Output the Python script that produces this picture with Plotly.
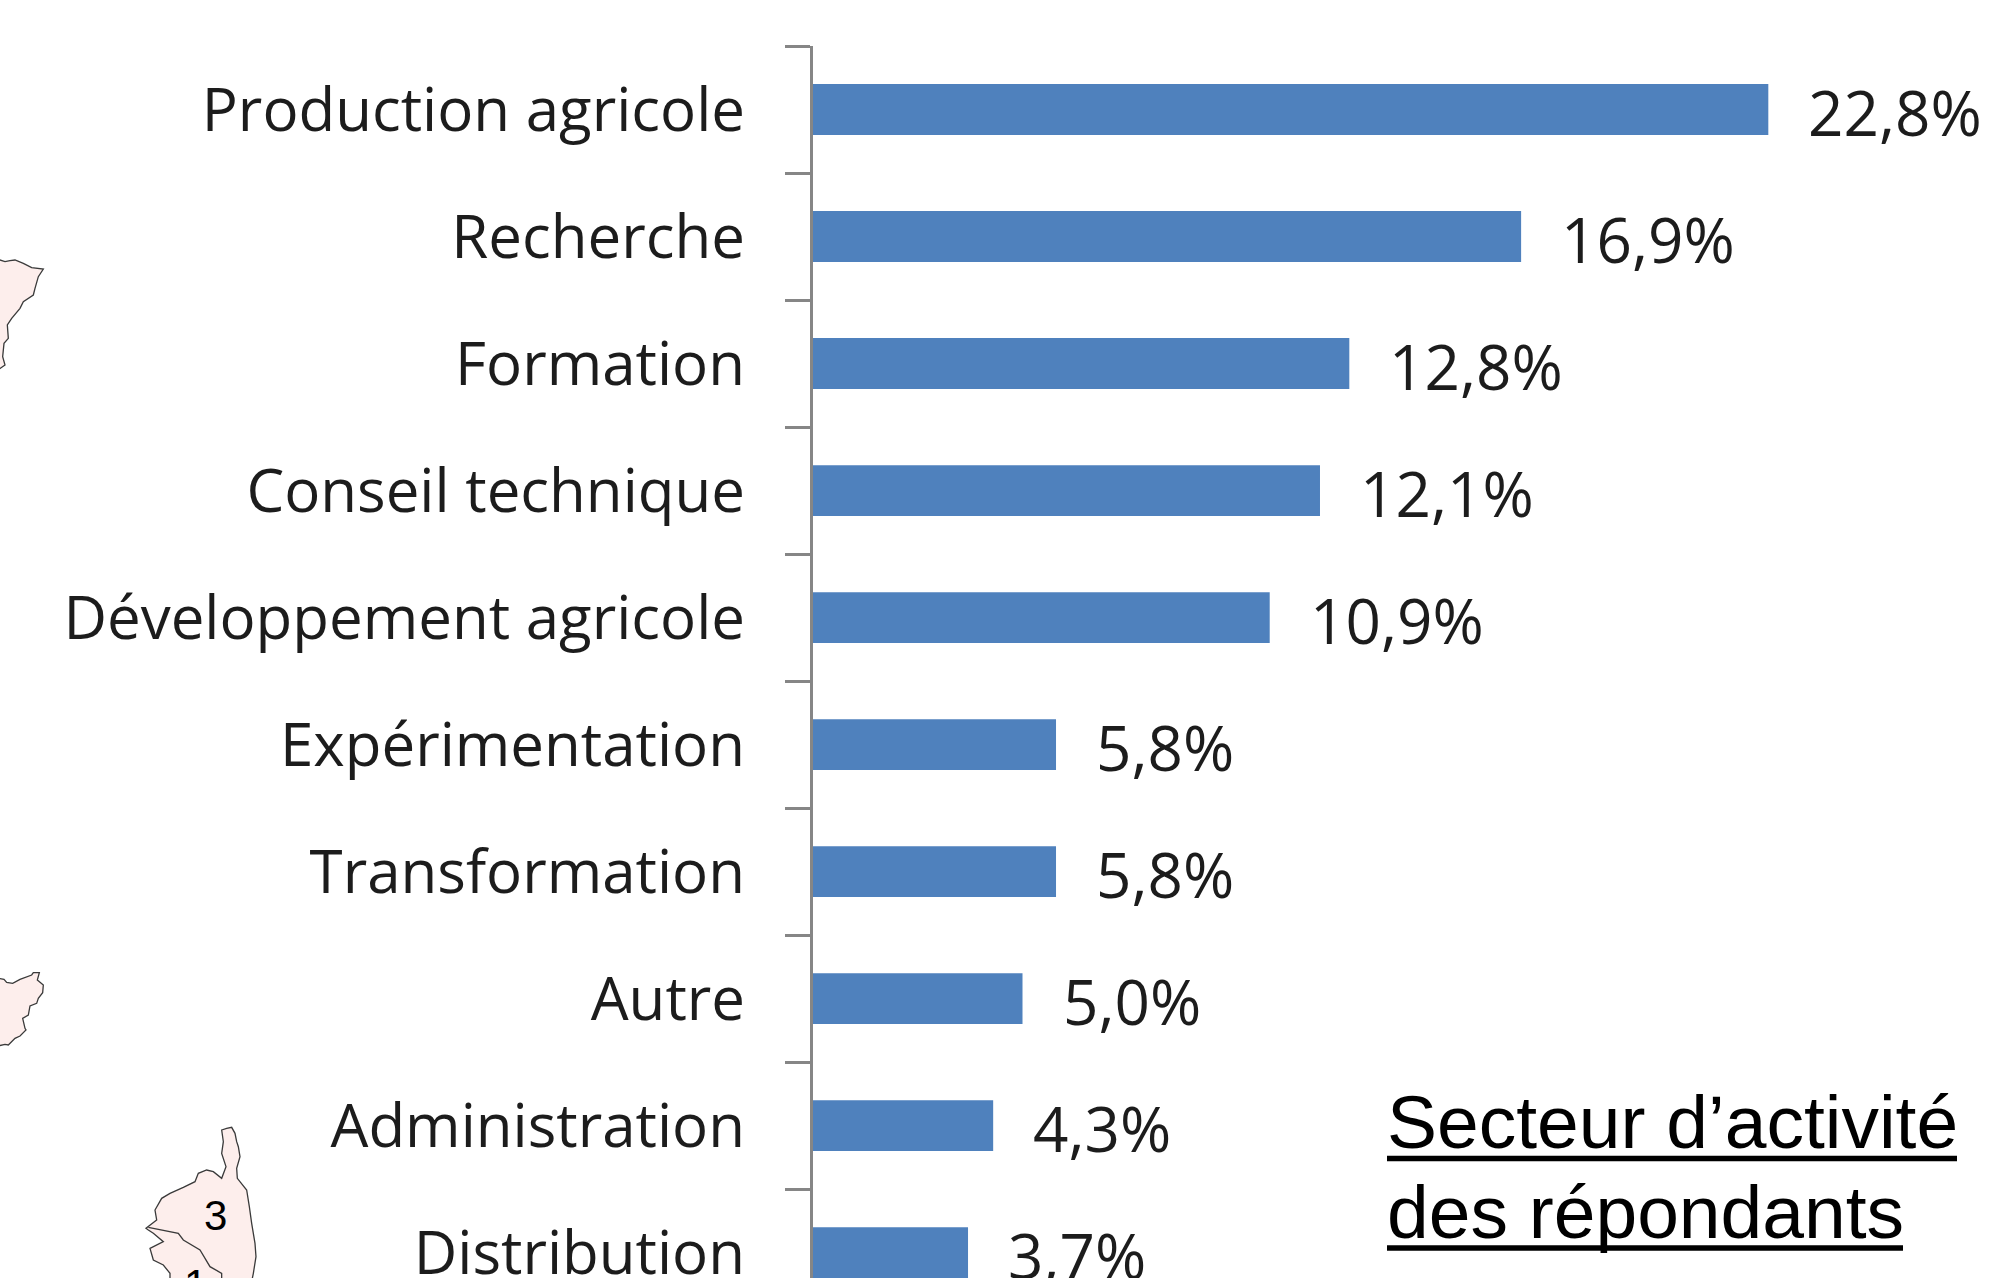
import plotly.graph_objects as go

categories = ["Production agricole", "Recherche", "Formation", "Conseil technique",
              "Développement agricole", "Expérimentation", "Transformation",
              "Autre", "Administration", "Distribution"]
values = [22.8, 16.9, 12.8, 12.1, 10.9, 5.8, 5.8, 5.0, 4.3, 3.7]
title_lines = ["Secteur d’activité", "des répondants"]

W, H = 1992, 1278
X0, PX_PER_UNIT = 813, 41.9
TOP = 46
BLUE = "#4f81bd"
GREY = "#868686"
MAP_FILL = "#fdeeec"
MAP_LINE = "#3a3a3a"
TEXT = "#1c1c1c"
LABEL_FONT = "Open Sans"


def path(points, close=True):
    s = "M " + " L ".join(f"{x / W:.5f},{1 - y / H:.5f}" for x, y in points)
    return s + (" Z" if close else "")


def zoomed(points, ox, oy):
    return [(ox + x / 3, oy + y / 3) for x, y in points]


corsica = zoomed([(305, 60), (320, 55), (335, 52), (345, 70), (350, 95), (355, 110), (360, 140), (350, 175),
                  (352, 205), (380, 240), (388, 290), (395, 340), (405, 400), (408, 440), (400, 490),
                  (396, 510), (150, 510), (150, 490), (130, 465), (100, 450), (90, 415), (130, 395), (100, 370),
                  (85, 360), (78, 355), (110, 330), (105, 300), (125, 265), (150, 250), (190, 232),
                  (225, 215), (235, 190), (260, 180), (280, 185), (305, 205), (318, 170), (305, 130),
                  (310, 95)], 120, 1110)
corsica_inner = zoomed([(85, 352), (175, 370), (190, 390), (240, 420), (270, 470), (305, 490), (305, 510)], 120, 1110)
frag_a = zoomed([(-6, 88), (15, 95), (30, 92), (45, 90), (70, 100), (95, 113), (130, 117), (115, 140), (105, 175),
                 (100, 195), (70, 215), (60, 235), (35, 265), (22, 285), (25, 325), (12, 340), (8, 380),
                 (15, 405), (-6, 420)], 0, 230)
frag_b = zoomed([(-6, 85), (12, 88), (20, 97), (38, 100), (60, 88), (95, 75), (100, 68), (118, 68), (112, 90),
                 (130, 105), (128, 128), (115, 145), (110, 160), (90, 168), (85, 195), (68, 205), (75, 235),
                 (78, 240), (60, 258), (45, 265), (25, 285), (15, 283), (-6, 288)], 0, 950)

shapes = []
for pts in (corsica, frag_a, frag_b):
    shapes.append(dict(type="path", xref="paper", yref="paper", path=path(pts), fillcolor=MAP_FILL,
                       line=dict(color=MAP_LINE, width=1.3), layer="below"))
shapes.append(dict(type="path", xref="paper", yref="paper", path=path(corsica_inner, close=False),
                   line=dict(color=MAP_LINE, width=1.3), layer="below"))
for x1, y in ((1957, 1158.5), (1903, 1248)):
    shapes.append(dict(type="line", xref="paper", yref="paper", x0=1387 / W, x1=x1 / W, y0=1 - y / H, y1=1 - y / H,
                       line=dict(color="#000000", width=5.5)))

annotations = []
for cat, v in zip(categories, values):
    annotations.append(dict(x=v, y=cat, xref="x", yref="y", text=f"{v:.1f}".replace(".", ",") + "%",
                            xanchor="left", yanchor="middle", xshift=38, yshift=-2, showarrow=False,
                            font=dict(family=LABEL_FONT, size=62, color=TEXT)))
annotations.append(dict(x=1385 / W, y=1 - 1122 / H, xref="paper", yref="paper", xanchor="left", yanchor="middle",
                        text=title_lines[0], showarrow=False,
                        font=dict(family="Liberation Sans", size=75, color="#000000")))
annotations.append(dict(x=1385 / W, y=1 - 1212 / H, xref="paper", yref="paper", xanchor="left", yanchor="middle",
                        text=title_lines[1], showarrow=False,
                        font=dict(family="Liberation Sans", size=75, color="#000000")))
annotations.append(dict(x=215 / W, y=1 - 1215 / H, xref="paper", yref="paper", text="3", showarrow=False,
                        xanchor="center", yanchor="middle",
                        font=dict(family="Liberation Sans", size=42, color="#000000")))
annotations.append(dict(x=195 / W, y=1 - 1284 / H, xref="paper", yref="paper", text="1", showarrow=False,
                        xanchor="center", yanchor="middle",
                        font=dict(family="Liberation Sans", size=42, color="#000000")))

fig = go.Figure(go.Bar(x=values, y=categories, orientation="h", marker=dict(color=BLUE, line=dict(width=0)),
                       hoverinfo="x+y"))
fig.update_layout(
    width=W, height=H, autosize=False, margin=dict(l=0, r=0, t=0, b=0, autoexpand=False),
    paper_bgcolor="white", plot_bgcolor="rgba(0,0,0,0)", bargap=0.6, showlegend=False,
    shapes=shapes, annotations=annotations,
    xaxis=dict(domain=[X0 / W, 1], range=[0, (W - X0) / PX_PER_UNIT], visible=False, showgrid=False, zeroline=False),
    yaxis=dict(domain=[0, 1 - TOP / H], type="category", categoryorder="array", categoryarray=categories,
               range=[9.2, -0.5], tickson="boundaries", ticks="outside", ticklen=25, tickwidth=3, tickcolor=GREY,
               showline=True, linewidth=3, linecolor=GREY, showgrid=False, zeroline=False, ticklabelstandoff=53,
               tickfont=dict(family=LABEL_FONT, size=60, color=TEXT)),
)
fig.write_html("out.html", config=dict(displayModeBar=False),
               post_script="document.body.style.margin='0';document.body.style.overflow='hidden';")
